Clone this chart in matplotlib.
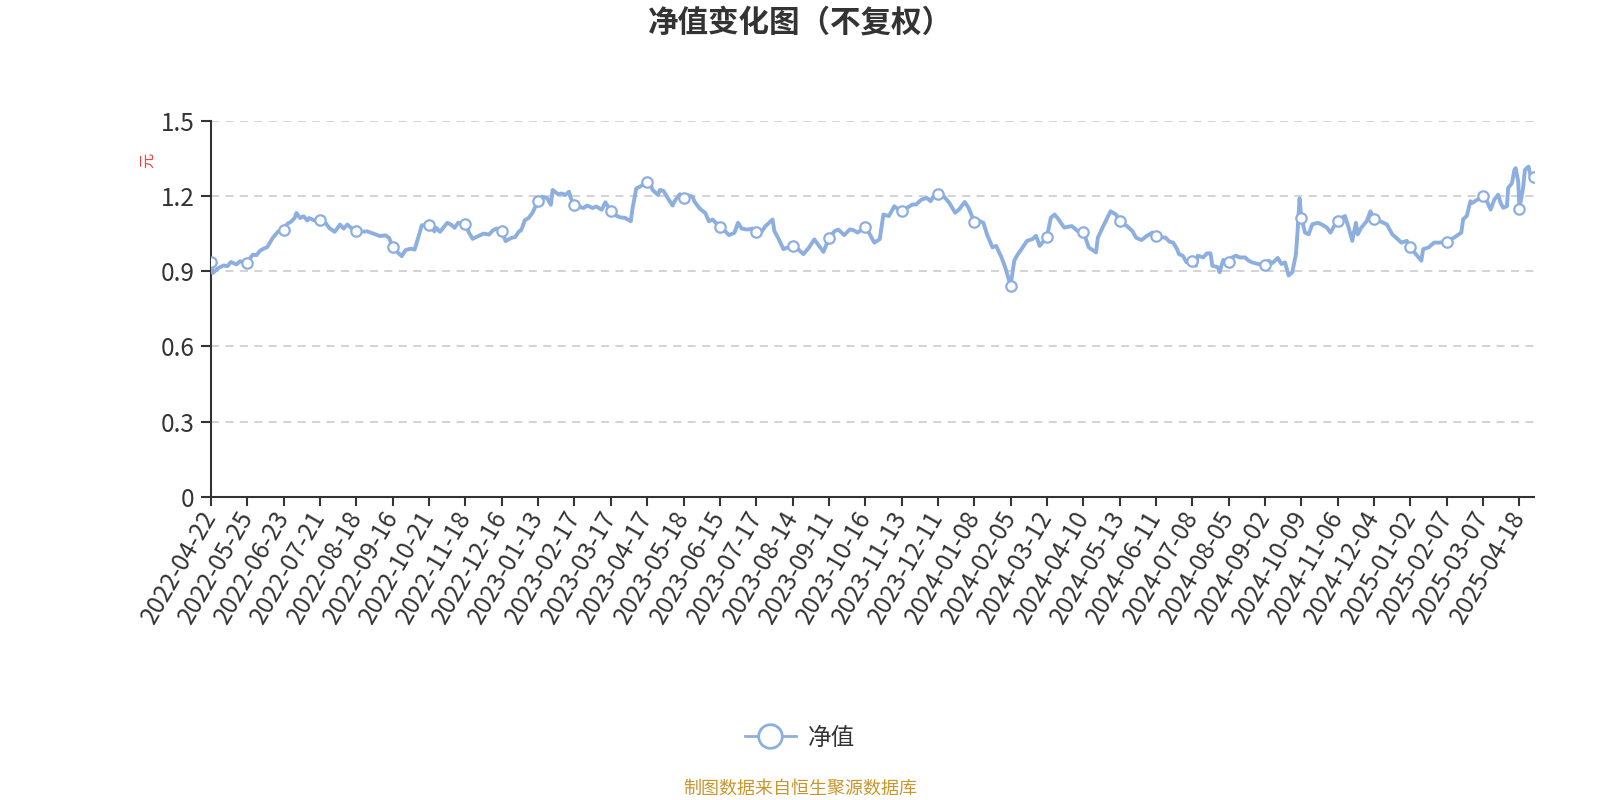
import numpy as np
import matplotlib
matplotlib.use("Agg")
import matplotlib.pyplot as plt
from matplotlib.lines import Line2D

plt.rcParams['font.family'] = ['Noto Sans CJK SC', 'DejaVu Sans']
plt.rcParams['lines.scale_dashes'] = False

# ---------------- data ----------------
title = "净值变化图（不复权）"
series_name = "净值"
y_unit = "元"
source_note = "制图数据来自恒生聚源数据库"

tick_dates = [
    "2022-04-22", "2022-05-25", "2022-06-23", "2022-07-21", "2022-08-18", "2022-09-16",
    "2022-10-21", "2022-11-18", "2022-12-16", "2023-01-13", "2023-02-17", "2023-03-17",
    "2023-04-17", "2023-05-18", "2023-06-15", "2023-07-17", "2023-08-14", "2023-09-11",
    "2023-10-16", "2023-11-13", "2023-12-11", "2024-01-08", "2024-02-05", "2024-03-12",
    "2024-04-10", "2024-05-13", "2024-06-11", "2024-07-08", "2024-08-05", "2024-09-02",
    "2024-10-09", "2024-11-06", "2024-12-04", "2025-01-02", "2025-02-07", "2025-03-07",
    "2025-04-18",
]

# market closures (weekdays) used to count trading days between dates
holidays = [
    "2022-05-02", "2022-05-03", "2022-05-04", "2022-06-03", "2022-09-12",
    "2022-10-03", "2022-10-04", "2022-10-05", "2022-10-06", "2022-10-07",
    "2023-01-02", "2023-01-23", "2023-01-24", "2023-01-25", "2023-01-26", "2023-01-27",
    "2023-04-05", "2023-05-01", "2023-05-02", "2023-05-03", "2023-06-22", "2023-06-23",
    "2023-09-29", "2023-10-02", "2023-10-03", "2023-10-04", "2023-10-05", "2023-10-06",
    "2024-01-01", "2024-02-09", "2024-02-12", "2024-02-13", "2024-02-14", "2024-02-15",
    "2024-02-16", "2024-04-04", "2024-04-05", "2024-05-01", "2024-05-02", "2024-05-03",
    "2024-06-10", "2024-09-16", "2024-09-17", "2024-10-01", "2024-10-02", "2024-10-03",
    "2024-10-04", "2024-10-07", "2025-01-01", "2025-01-28", "2025-01-29", "2025-01-30",
    "2025-01-31", "2025-02-03", "2025-02-04", "2025-04-04",
]

dates = [
    "2022-04-22", "2022-04-25", "2022-04-28", "2022-05-06", "2022-05-10", "2022-05-12",
    "2022-05-17", "2022-05-19", "2022-05-25", "2022-05-26", "2022-05-30", "2022-06-01",
    "2022-06-06", "2022-06-08", "2022-06-10", "2022-06-13", "2022-06-15", "2022-06-20",
    "2022-06-23", "2022-06-27", "2022-06-29", "2022-07-01", "2022-07-04", "2022-07-06",
    "2022-07-08", "2022-07-12", "2022-07-13", "2022-07-18", "2022-07-21", "2022-07-26",
    "2022-07-28", "2022-08-02", "2022-08-03", "2022-08-05", "2022-08-09", "2022-08-11",
    "2022-08-15", "2022-08-18", "2022-08-22", "2022-08-26", "2022-08-31", "2022-09-06",
    "2022-09-09", "2022-09-14", "2022-09-16", "2022-09-20", "2022-09-23", "2022-09-27",
    "2022-09-30", "2022-10-11", "2022-10-13", "2022-10-17", "2022-10-21", "2022-10-26",
    "2022-10-27", "2022-10-31", "2022-11-04", "2022-11-08", "2022-11-10", "2022-11-14",
    "2022-11-18", "2022-11-22", "2022-11-24", "2022-11-29", "2022-12-02", "2022-12-07",
    "2022-12-09", "2022-12-13", "2022-12-16", "2022-12-20", "2022-12-23", "2022-12-27",
    "2022-12-29", "2022-12-30", "2023-01-03", "2023-01-04", "2023-01-06", "2023-01-10",
    "2023-01-13", "2023-01-17", "2023-01-20", "2023-01-31", "2023-02-01", "2023-02-06",
    "2023-02-08", "2023-02-10", "2023-02-14", "2023-02-15", "2023-02-17", "2023-02-21",
    "2023-02-24", "2023-02-28", "2023-03-03", "2023-03-07", "2023-03-10", "2023-03-14",
    "2023-03-17", "2023-03-21", "2023-03-24", "2023-03-29", "2023-04-03", "2023-04-04",
    "2023-04-07", "2023-04-11", "2023-04-17", "2023-04-19", "2023-04-20", "2023-04-25",
    "2023-04-26", "2023-04-28", "2023-05-08", "2023-05-10", "2023-05-11", "2023-05-16",
    "2023-05-18", "2023-05-22", "2023-05-25", "2023-05-26", "2023-05-31", "2023-06-05",
    "2023-06-07", "2023-06-09", "2023-06-15", "2023-06-19", "2023-06-26", "2023-06-29",
    "2023-07-03", "2023-07-05", "2023-07-10", "2023-07-13", "2023-07-17", "2023-07-19",
    "2023-07-24", "2023-07-28", "2023-07-31", "2023-08-02", "2023-08-07", "2023-08-09",
    "2023-08-14", "2023-08-17", "2023-08-22", "2023-08-25", "2023-08-30", "2023-09-01",
    "2023-09-06", "2023-09-11", "2023-09-14", "2023-09-18", "2023-09-21", "2023-09-26",
    "2023-09-28", "2023-10-10", "2023-10-16", "2023-10-18", "2023-10-23", "2023-10-26",
    "2023-10-30", "2023-11-02", "2023-11-07", "2023-11-08", "2023-11-13", "2023-11-16",
    "2023-11-21", "2023-11-23", "2023-11-28", "2023-12-01", "2023-12-05", "2023-12-07",
    "2023-12-11", "2023-12-14", "2023-12-19", "2023-12-22", "2023-12-26", "2023-12-29",
    "2024-01-03", "2024-01-08", "2024-01-10", "2024-01-15", "2024-01-17", "2024-01-22",
    "2024-01-24", "2024-01-29", "2024-01-31", "2024-02-05", "2024-02-07", "2024-02-19",
    "2024-02-21", "2024-02-26", "2024-02-29", "2024-03-04", "2024-03-06", "2024-03-12",
    "2024-03-14", "2024-03-18", "2024-03-20", "2024-03-25", "2024-03-29", "2024-04-03",
    "2024-04-10", "2024-04-15", "2024-04-19", "2024-04-22", "2024-04-25", "2024-05-06",
    "2024-05-09", "2024-05-13", "2024-05-17", "2024-05-22", "2024-05-24", "2024-05-29",
    "2024-06-03", "2024-06-06", "2024-06-11", "2024-06-14", "2024-06-18", "2024-06-20",
    "2024-06-24", "2024-06-26", "2024-06-27", "2024-07-01", "2024-07-03", "2024-07-08",
    "2024-07-10", "2024-07-11", "2024-07-16", "2024-07-18", "2024-07-22", "2024-07-23",
    "2024-07-26", "2024-07-29", "2024-07-31", "2024-08-05", "2024-08-07", "2024-08-09",
    "2024-08-13", "2024-08-16", "2024-08-20", "2024-08-22", "2024-08-27", "2024-09-02",
    "2024-09-04", "2024-09-06", "2024-09-11", "2024-09-13", "2024-09-19", "2024-09-23",
    "2024-09-25", "2024-09-27", "2024-09-30", "2024-10-08", "2024-10-09", "2024-10-11",
    "2024-10-15", "2024-10-17", "2024-10-22", "2024-10-24", "2024-10-29", "2024-10-31",
    "2024-11-04", "2024-11-06", "2024-11-08", "2024-11-12", "2024-11-14", "2024-11-18",
    "2024-11-20", "2024-11-21", "2024-11-25", "2024-11-28", "2024-12-02", "2024-12-04",
    "2024-12-09", "2024-12-13", "2024-12-18", "2024-12-23", "2024-12-25", "2024-12-30",
    "2025-01-02", "2025-01-07", "2025-01-10", "2025-01-13", "2025-01-16", "2025-01-21",
    "2025-01-24", "2025-02-07", "2025-02-13", "2025-02-19", "2025-02-20", "2025-02-24",
    "2025-02-26", "2025-02-27", "2025-03-04", "2025-03-07", "2025-03-12", "2025-03-17",
    "2025-03-20", "2025-03-25", "2025-03-27", "2025-03-31", "2025-04-03", "2025-04-07",
    "2025-04-10", "2025-04-14", "2025-04-15", "2025-04-17", "2025-04-18", "2025-04-22",
    "2025-04-23", "2025-04-25", "2025-04-28", "2025-04-30",
]

nav = [
    0.936, 0.893, 0.913, 0.923, 0.920, 0.937,
    0.927, 0.940, 0.931, 0.947, 0.966, 0.964,
    0.982, 0.990, 0.996, 1.009, 1.033, 1.059,
    1.065, 1.089, 1.097, 1.112, 1.132, 1.112,
    1.119, 1.102, 1.112, 1.102, 1.104, 1.093,
    1.073, 1.057, 1.066, 1.086, 1.070, 1.086,
    1.073, 1.062, 1.057, 1.059, 1.051, 1.040,
    1.043, 1.033, 0.997, 0.980, 0.960, 0.984,
    0.990, 0.986, 1.033, 1.083, 1.086, 1.059,
    1.073, 1.057, 1.093, 1.086, 1.073, 1.093,
    1.089, 1.053, 1.029, 1.040, 1.050, 1.046,
    1.062, 1.070, 1.059, 1.020, 1.033, 1.036,
    1.059, 1.062, 1.080, 1.103, 1.112, 1.132,
    1.180, 1.197, 1.191, 1.165, 1.224, 1.207,
    1.210, 1.204, 1.217, 1.191, 1.165, 1.158,
    1.152, 1.162, 1.152, 1.158, 1.145, 1.175,
    1.141, 1.125, 1.115, 1.112, 1.099, 1.152,
    1.230, 1.237, 1.256, 1.243, 1.224, 1.204,
    1.224, 1.220, 1.184, 1.162, 1.178, 1.207,
    1.191, 1.204, 1.197, 1.178, 1.149, 1.132,
    1.099, 1.106, 1.077, 1.066, 1.044, 1.053,
    1.093, 1.070, 1.066, 1.070, 1.057, 1.047,
    1.079, 1.106, 1.060, 1.034, 0.988, 0.994,
    1.001, 0.988, 0.968, 0.994, 1.027, 1.007,
    0.977, 1.031, 1.060, 1.066, 1.044, 1.067,
    1.063, 1.054, 1.076, 1.054, 1.014, 1.028,
    1.126, 1.120, 1.159, 1.153, 1.140, 1.153,
    1.166, 1.166, 1.186, 1.192, 1.179, 1.205,
    1.208, 1.199, 1.172, 1.133, 1.146, 1.176,
    1.153, 1.097, 1.103, 1.093, 1.047, 0.995,
    1.001, 0.955, 0.916, 0.843, 0.942, 0.968,
    0.988, 1.021, 1.028, 1.041, 1.001, 1.037,
    1.113, 1.126, 1.107, 1.074, 1.080, 1.060,
    1.058, 0.995, 0.975, 1.034, 1.080, 1.139,
    1.126, 1.100, 1.080, 1.060, 1.034, 1.024,
    1.041, 1.054, 1.041, 1.035, 1.034, 1.018,
    1.014, 0.988, 0.968, 0.962, 0.935, 0.939,
    0.922, 0.962, 0.955, 0.971, 0.971, 0.922,
    0.916, 0.896, 0.945, 0.935, 0.955, 0.962,
    0.955, 0.955, 0.942, 0.935, 0.929, 0.926,
    0.942, 0.932, 0.953, 0.929, 0.935, 0.883,
    0.896, 0.968, 1.070, 1.190, 1.113, 1.054,
    1.047, 1.087, 1.093, 1.087, 1.074, 1.054,
    1.080, 1.100, 1.113, 1.120, 1.074, 1.021,
    1.093, 1.047, 1.074, 1.100, 1.139, 1.107,
    1.100, 1.087, 1.047, 1.028, 1.014, 1.021,
    0.995, 0.968, 0.942, 0.988, 0.995, 1.014,
    1.014, 1.017, 1.034, 1.054, 1.107, 1.120,
    1.179, 1.172, 1.186, 1.199, 1.179, 1.146,
    1.186, 1.205, 1.172, 1.153, 1.159, 1.232,
    1.251, 1.304, 1.311, 1.258, 1.150, 1.232,
    1.304, 1.317, 1.284, 1.274,
]

y_ticks = [0, 0.3, 0.6, 0.9, 1.2, 1.5]
y_tick_labels = ["0", "0.3", "0.6", "0.9", "1.2", "1.5"]

# ---------------- category-axis positions ----------------
STEP = 20  # categories between two labelled ticks
hol = np.array(holidays, dtype="datetime64[D]")
lab = np.array(tick_dates, dtype="datetime64[D]")
days = np.array(dates, dtype="datetime64[D]")


def cat_pos(day):
    i = int(np.searchsorted(lab, day, side="right") - 1)
    i = max(0, min(i, len(lab) - 1))
    n = np.busday_count(lab[i], day, holidays=hol)
    if i < len(lab) - 1:
        tot = np.busday_count(lab[i], lab[i + 1], holidays=hol)
        return STEP * i + STEP * n / tot
    return STEP * i + n


x = np.array([cat_pos(d) for d in days])
tick_x = [STEP * i for i in range(len(tick_dates))]
mark_idx = [i for i, d in enumerate(dates) if d in tick_dates] + [len(dates) - 1]

# ---------------- figure ----------------
line_c = "#8dafdf"
axis_c = "#333333"
fig = plt.figure(figsize=(16, 8), dpi=100)
ax = fig.add_axes([211 / 1600, 1 - 497 / 800, (1534 - 211) / 1600, (497 - 120.7) / 800])

ax.plot(x, nav, color=line_c, lw=2.8, solid_joinstyle="round", zorder=3,
        marker="o", markevery=mark_idx, markersize=7.5, markerfacecolor="white",
        markeredgecolor=line_c, markeredgewidth=1.6)

ax.set_xlim(0, x[-1])
ax.set_ylim(0, 1.5)

for yv in y_ticks[1:]:
    ax.axhline(yv, color="#cccccc", lw=1.2, ls=(0, (5.8, 4.6)), zorder=1)

ax.set_yticks(y_ticks)
ax.set_yticklabels(y_tick_labels)
ax.set_xticks(tick_x)
ax.set_xticklabels(tick_dates, rotation=60, ha="right", va="center",
                   rotation_mode="anchor")

for s in ["top", "right"]:
    ax.spines[s].set_visible(False)
for s in ["left", "bottom"]:
    ax.spines[s].set_color(axis_c)
    ax.spines[s].set_linewidth(1.5)

ax.tick_params(axis="y", length=7, width=1.5, color=axis_c, labelcolor=axis_c,
               labelsize=17.5, pad=5)
ax.tick_params(axis="x", length=6.5, width=1.5, color=axis_c, labelcolor=axis_c,
               labelsize=17.5, pad=5)

fig.text(0.5, 1 - 23 / 800, title, ha="center", va="center", fontsize=22,
         fontweight="bold", color="#333333")
fig.text(148 / 1600, 1 - 160 / 800, y_unit, ha="center", va="center", rotation=90,
         fontsize=11, color="#ff3b3b")
fig.text(0.5, 1 - 789 / 800, source_note, ha="center", va="center", fontsize=13,
         color="#c8962d")

handle = Line2D([], [], color=line_c, lw=2, marker="o", markersize=17,
                markerfacecolor="white", markeredgecolor=line_c, markeredgewidth=2)
fig.legend([handle], [series_name], loc="center", bbox_to_anchor=(0.5, 1 - 738 / 800),
           frameon=False, fontsize=17, handlelength=2.2, handletextpad=0.5,
           labelcolor="#333333")

fig.savefig("out.png", dpi=100)
